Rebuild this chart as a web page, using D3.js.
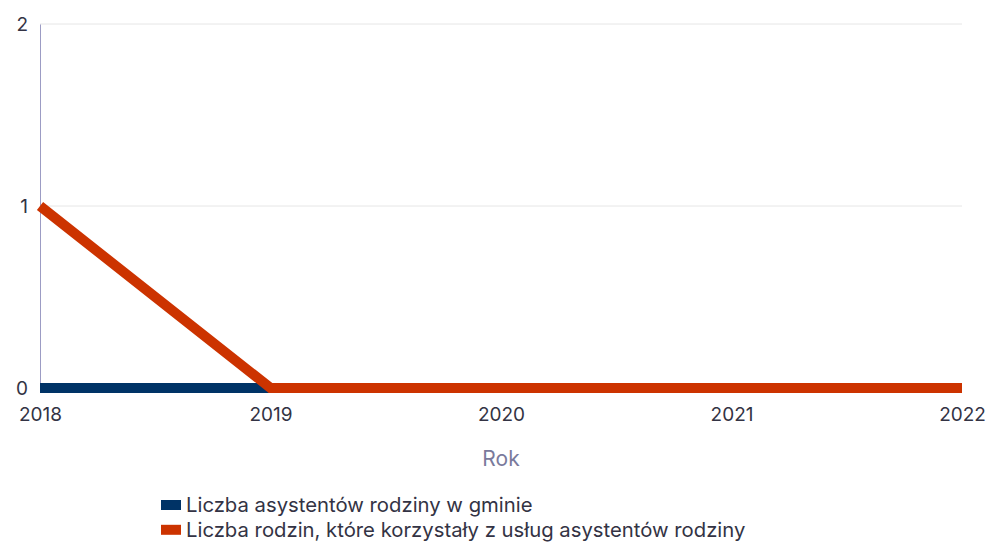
<!DOCTYPE html>
<html>
<head>
<meta charset="utf-8">
<script src="https://cdn.jsdelivr.net/npm/d3@7"></script>
<style>
body { margin: 0; background: #fff; }
text { font-family: Inter, "Open Sans", sans-serif; }
</style>
</head>
<body>
<div id="chart"></div>
<script>
// data
var years = ["2018", "2019", "2020", "2021", "2022"];
var asystenci = [0, 0, 0, 0, 0];
var rodziny = [1, 0, 0, 0, 0];
var seriesNames = ["Liczba asystentów rodziny w gminie", "Liczba rodzin, które korzystały z usług asystentów rodziny"];
var seriesColors = ["#003366", "#cc3300"];
var yTicks = [0, 1, 2];

var W = 986, H = 544;
var margin = {top: 24, right: 24, bottom: 156, left: 40},
  width = W - margin.left - margin.right,
  height = H - margin.top - margin.bottom;

var svg = d3.select("#chart").append("svg")
  .attr("width", W)
  .attr("height", H);
var g = svg.append("g")
  .attr("transform", "translate(" + margin.left + "," + margin.top + ")");

var x = d3.scalePoint().domain(years).range([0, width]);
var y = d3.scaleLinear().domain([0, 2]).range([height, 0]);

// grid lines
g.selectAll(".grid")
  .data(yTicks.filter(function(d) { return d > 0; }))
  .enter().append("line")
  .attr("x1", 0).attr("x2", width)
  .attr("y1", function(d) { return y(d); })
  .attr("y2", function(d) { return y(d); })
  .attr("stroke", "#e6e6e6")
  .attr("stroke-width", 1);

// y axis
var yAxis = g.append("g")
  .call(d3.axisLeft(y).tickValues(yTicks).tickFormat(d3.format("d")).tickSize(0).tickPadding(12));
yAxis.select(".domain").attr("stroke", "#9c9cc4");
yAxis.selectAll("text").style("font-size", "19px").attr("fill", "#333344");

// x axis
var xAxis = g.append("g")
  .attr("transform", "translate(0," + height + ")")
  .call(d3.axisBottom(x).tickSize(0).tickPadding(20));
xAxis.select(".domain").remove();
xAxis.selectAll("text").style("font-size", "19px").attr("fill", "#333344");

// lines
var line = d3.line()
  .x(function(d, i) { return x(years[i]); })
  .y(function(d) { return y(d); });

[asystenci, rodziny].forEach(function(s, i) {
  g.append("path")
    .datum(s)
    .attr("fill", "none")
    .attr("stroke", seriesColors[i])
    .attr("stroke-width", 10)
    .attr("stroke-linejoin", "miter")
    .attr("d", line);
});

// axis title
svg.append("text")
  .attr("x", margin.left + width / 2)
  .attr("y", 466)
  .attr("text-anchor", "middle")
  .style("font-size", "21px")
  .attr("fill", "#7a7a9c")
  .text("Rok");

// legend
var legend = svg.append("g").attr("transform", "translate(161,498)");
seriesNames.forEach(function(name, i) {
  var row = legend.append("g").attr("transform", "translate(0," + (i * 24.8) + ")");
  row.append("rect")
    .attr("x", 0).attr("y", 2)
    .attr("width", 20).attr("height", 10)
    .attr("fill", seriesColors[i]);
  row.append("text")
    .attr("x", 25).attr("y", 14)
    .style("font-size", "20.3px")
    .attr("fill", "#333344")
    .text(name);
});
</script>
</body>
</html>
